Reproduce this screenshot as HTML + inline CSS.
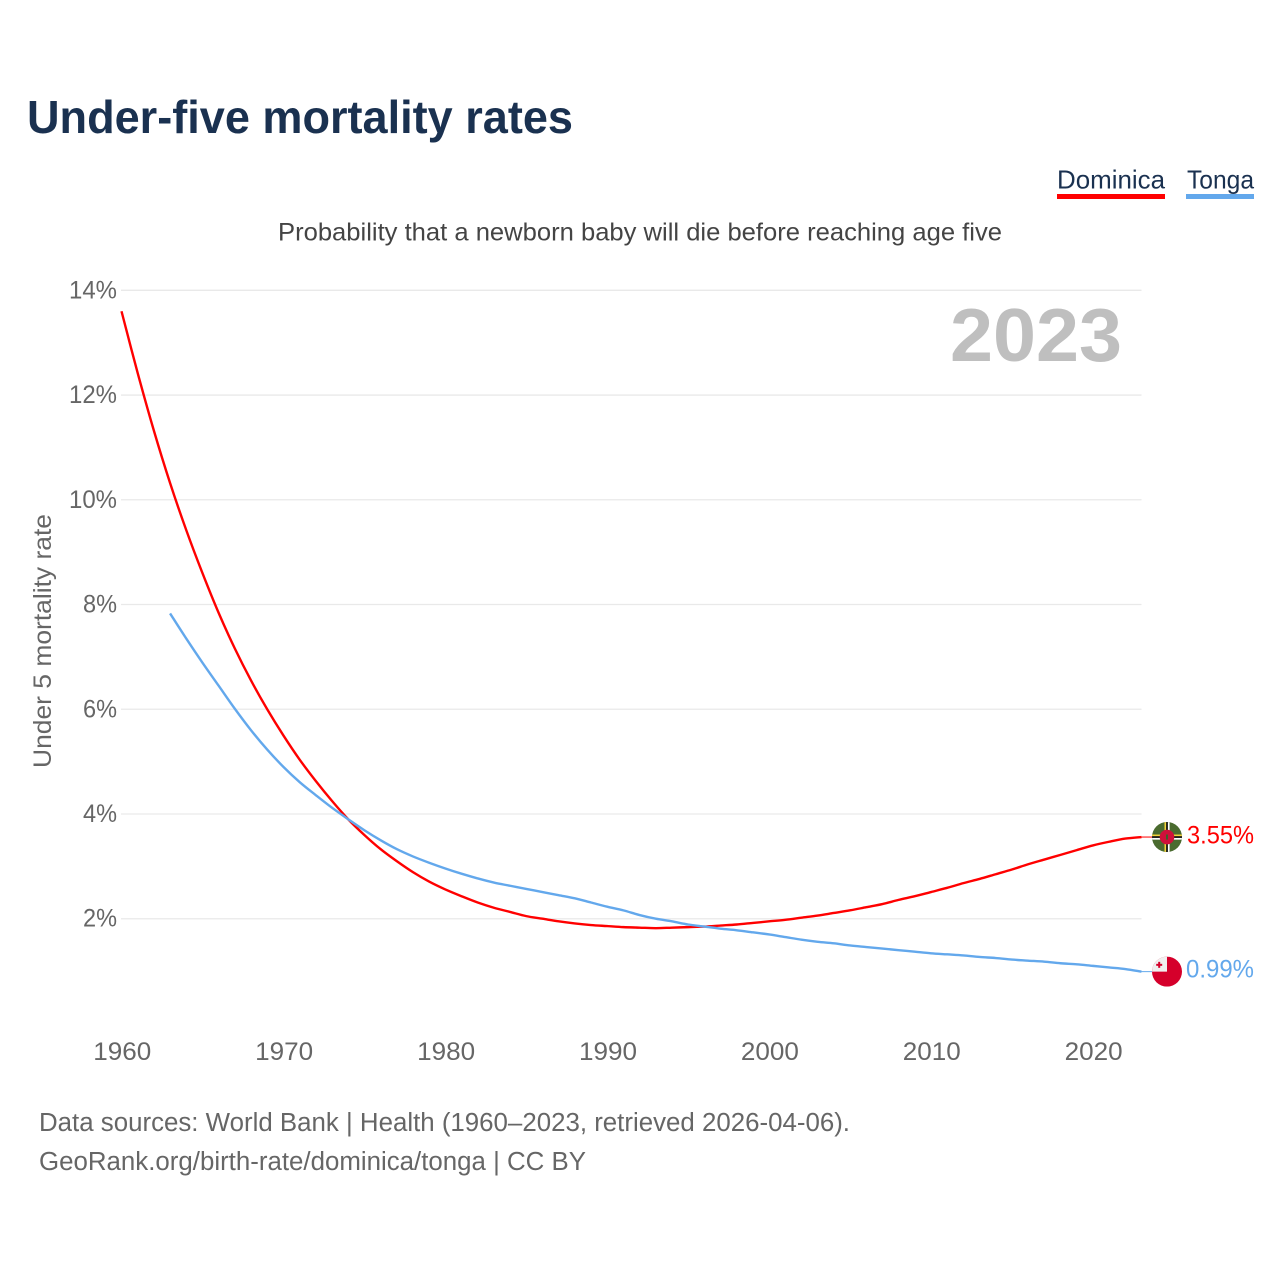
<!DOCTYPE html>
<html lang="en">
<head>
<meta charset="utf-8">
<title>Under-five mortality rates</title>
<style>
html,body{margin:0;padding:0;background:#fff}
svg{display:block;font-family:"Liberation Sans",sans-serif}
</style>
</head>
<body>
<svg id="chart" xmlns="http://www.w3.org/2000/svg" width="1280" height="1280" viewBox="0 0 1280 1280">
  <defs>
    <clipPath id="flag-clip"><circle cx="0" cy="0" r="15"></circle></clipPath>
  </defs>
  <rect x="0" y="0" width="1280" height="1280" fill="#ffffff"></rect>
  <text x="27" y="133" font-size="46" font-weight="700" fill="#1a3150" textLength="546" lengthAdjust="spacingAndGlyphs">Under-five mortality rates</text>
  <g>
    <text x="1057" y="188.5" font-size="26" fill="#1a3150" textLength="108" lengthAdjust="spacingAndGlyphs">Dominica</text>
    <rect x="1057" y="194" width="108" height="5" fill="#ff0000"></rect>
  </g>
  <g>
    <text x="1187" y="188.5" font-size="26" fill="#1a3150" textLength="67" lengthAdjust="spacingAndGlyphs">Tonga</text>
    <rect x="1186" y="194" width="68" height="5" fill="#63a8ec"></rect>
  </g>
  <text x="278" y="240.5" font-size="25" fill="#444444" textLength="724" lengthAdjust="spacingAndGlyphs">Probability that a newborn baby will die before reaching age five</text>
  <g id="grid"></g>
  <g id="y-ticks"></g>
  <g id="x-ticks"></g>
  <text transform="translate(51,768) rotate(-90)" font-size="25" fill="#666666" textLength="254" lengthAdjust="spacingAndGlyphs">Under 5 mortality rate</text>
  <text x="950" y="361" font-size="75" font-weight="700" fill="#bfbfbf" textLength="172" lengthAdjust="spacingAndGlyphs">2023</text>
  <g id="series"></g>
  <g id="flag-dominica">
    <g clip-path="url(#flag-clip)">
      <rect x="-15" y="-15" width="30" height="30" fill="#4a6b2f"></rect>
      <rect x="-2.5" y="-15" width="1.7" height="30" fill="#f5d33a"></rect>
      <rect x="-0.8" y="-15" width="1.7" height="30" fill="#111111"></rect>
      <rect x="0.9" y="-15" width="1.7" height="30" fill="#ffffff"></rect>
      <rect x="-15" y="-2.5" width="30" height="1.7" fill="#f5d33a"></rect>
      <rect x="-15" y="-0.8" width="30" height="1.7" fill="#111111"></rect>
      <rect x="-15" y="0.9" width="30" height="1.7" fill="#ffffff"></rect>
      <circle cx="0" cy="0" r="7.3" fill="#d0103a"></circle>
      <rect x="-1" y="-2.5" width="2" height="5" fill="#3f5f28"></rect>
    </g>
  </g>
  <g id="flag-tonga">
    <g clip-path="url(#flag-clip)">
      <rect x="-15" y="-15" width="30" height="30" fill="#d5002b"></rect>
      <rect x="-15" y="-15" width="15" height="15" fill="#f0f0f0"></rect>
      <rect x="-8.8" y="-9.8" width="2" height="6" fill="#d5002b"></rect>
      <rect x="-10.8" y="-7.8" width="6" height="2" fill="#d5002b"></rect>
    </g>
  </g>
  <text id="value-dominica" x="1187" font-size="25" fill="#ff0000" textLength="67" lengthAdjust="spacingAndGlyphs"></text>
  <text id="value-tonga" x="1186" font-size="25" fill="#63a8ec" textLength="68" lengthAdjust="spacingAndGlyphs"></text>
  <text x="39" y="1131" font-size="25.5" fill="#666666" textLength="811" lengthAdjust="spacingAndGlyphs">Data sources: World Bank | Health (1960–2023, retrieved 2026-04-06).</text>
  <text x="39" y="1170" font-size="25.5" fill="#666666" textLength="547" lengthAdjust="spacingAndGlyphs">GeoRank.org/birth-rate/dominica/tonga | CC BY</text>
</svg>
<script>
const dominicaStartYear = 1960;
const tongaStartYear = 1963;
const dominicaValues = [13.6,12.42,11.32,10.32,9.42,8.6,7.84,7.16,6.55,6.0,5.5,5.04,4.63,4.25,3.9,3.6,3.33,3.1,2.89,2.71,2.56,2.43,2.31,2.21,2.13,2.05,2.0,1.95,1.91,1.88,1.86,1.84,1.83,1.82,1.83,1.84,1.85,1.87,1.89,1.92,1.95,1.98,2.02,2.06,2.11,2.16,2.22,2.28,2.36,2.43,2.51,2.59,2.68,2.76,2.85,2.94,3.04,3.13,3.22,3.31,3.4,3.47,3.53,3.56];
const tongaValues = [7.83,7.35,6.89,6.45,6.01,5.6,5.23,4.9,4.61,4.36,4.12,3.9,3.69,3.5,3.33,3.19,3.07,2.96,2.86,2.77,2.69,2.63,2.57,2.51,2.45,2.39,2.31,2.23,2.16,2.07,2.0,1.95,1.89,1.85,1.81,1.78,1.74,1.7,1.65,1.6,1.56,1.53,1.49,1.46,1.43,1.4,1.37,1.34,1.32,1.3,1.27,1.25,1.22,1.2,1.18,1.15,1.13,1.1,1.07,1.04,0.99];
const yTickValues = [2,4,6,8,10,12,14];
const xTickYears = [1960,1970,1980,1990,2000,2010,2020];
const dominicaLabel = "3.55%";
const tongaLabel = "0.99%";

const SVGNS = "http://www.w3.org/2000/svg";
function xScale(year){ return 121.5 + (year - 1960) * 16.19; }
function yScale(v){ return 290.3 + (14 - v) * 52.37; }
function make(tag, attrs){
  const el = document.createElementNS(SVGNS, tag);
  for (const k in attrs) el.setAttribute(k, attrs[k]);
  return el;
}

const gridG = document.getElementById('grid');
const yG = document.getElementById('y-ticks');
yTickValues.forEach(function(v){
  const line = make('line', {x1:121, x2:1141.5, y1:yScale(v), y2:yScale(v), stroke:'#e9e9e9', 'stroke-width':1.3});
  
  
  gridG.appendChild(line);
  const label = make('text', {x:117, y:yScale(v)+8, 'text-anchor':'end', 'font-size':25, fill:'#666666', textLength: v >= 10 ? 48 : 34, lengthAdjust:'spacingAndGlyphs'});
  
  
  label.textContent = v + '%';
  yG.appendChild(label);
});

const xG = document.getElementById('x-ticks');
xTickYears.forEach(function(year){
  const label = make('text', {x:xScale(year)+0.8, y:1060, 'text-anchor':'middle', 'font-size':25, fill:'#666666', textLength:58, lengthAdjust:'spacingAndGlyphs'});
  
  
  label.textContent = year;
  xG.appendChild(label);
});

function smoothPath(values, startYear){
  const pts = values.map(function(v, i){ return [xScale(startYear + i), yScale(v)]; });
  let d = 'M' + pts[0][0].toFixed(2) + ' ' + pts[0][1].toFixed(2);
  for (let i = 0; i < pts.length - 1; i++) {
    const p0 = pts[Math.max(i - 1, 0)];
    const p1 = pts[i];
    const p2 = pts[i + 1];
    const p3 = pts[Math.min(i + 2, pts.length - 1)];
    const c1x = p1[0] + (p2[0] - p0[0]) / 6;
    const c1y = p1[1] + (p2[1] - p0[1]) / 6;
    const c2x = p2[0] - (p3[0] - p1[0]) / 6;
    const c2y = p2[1] - (p3[1] - p1[1]) / 6;
    d += 'C' + c1x.toFixed(2) + ' ' + c1y.toFixed(2) + ' ' + c2x.toFixed(2) + ' ' + c2y.toFixed(2) + ' ' + p2[0].toFixed(2) + ' ' + p2[1].toFixed(2);
  }
  return d;
}
const seriesG = document.getElementById('series');

const tongaLine = make('path', {d:smoothPath(tongaValues, tongaStartYear), fill:'none', stroke:'#63a8ec', 'stroke-width':2.4, 'stroke-linejoin':'round'});



const dominicaLine = make('path', {d:smoothPath(dominicaValues, dominicaStartYear), fill:'none', stroke:'#ff0000', 'stroke-width':2.4, 'stroke-linejoin':'round'});



seriesG.appendChild(dominicaLine);
seriesG.appendChild(tongaLine);

const dLast = yScale(dominicaValues[dominicaValues.length-1]);
const tLast = yScale(tongaValues[tongaValues.length-1]);
const xLast = xScale(2023);

const dConn = make('line', {x1:xLast, x2:xLast+11, y1:dLast, y2:dLast, stroke:'#ff0000', 'stroke-width':1});


seriesG.appendChild(dConn);

const tConn = make('line', {x1:xLast, x2:xLast+11, y1:tLast, y2:tLast, stroke:'#63a8ec', 'stroke-width':1});


seriesG.appendChild(tConn);

document.getElementById('flag-dominica').setAttribute('transform', 'translate(1167,' + dLast + ')');
document.getElementById('flag-tonga').setAttribute('transform', 'translate(1167,' + tLast + ')');

const vd = document.getElementById('value-dominica');
vd.setAttribute('y', dLast + 6.5);
vd.textContent = dominicaLabel;
const vt = document.getElementById('value-tonga');
vt.setAttribute('y', tLast + 6);
vt.textContent = tongaLabel;
</script>
</body>
</html>
